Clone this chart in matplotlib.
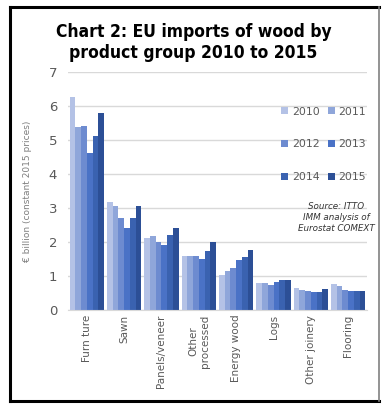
import numpy as np
import matplotlib
matplotlib.use("Agg")
import matplotlib.pyplot as plt
from matplotlib.lines import Line2D

categories = ["Furniture", "Sawn", "Panels/veneer", "Other\nprocessed",
              "Energy wood", "Logs", "Other joinery", "Flooring"]
tick_labels = ["Furn ture", "Sawn", "Panels/veneer", "Other\nprocessed",
               "Energy wood", "Logs", "Other joinery", "Flooring"]
years = ["2010", "2011", "2012", "2013", "2014", "2015"]
v2010 = [6.25, 3.18, 2.12, 1.60, 1.02, 0.80, 0.65, 0.75]
v2011 = [5.38, 3.05, 2.18, 1.60, 1.15, 0.80, 0.60, 0.70]
v2012 = [5.42, 2.70, 2.00, 1.60, 1.22, 0.73, 0.57, 0.60]
v2013 = [4.63, 2.42, 1.92, 1.50, 1.48, 0.83, 0.53, 0.55]
v2014 = [5.12, 2.70, 2.20, 1.72, 1.57, 0.88, 0.53, 0.57]
v2015 = [5.78, 3.05, 2.42, 2.00, 1.77, 0.88, 0.63, 0.57]
series = [v2010, v2011, v2012, v2013, v2014, v2015]
colors = ["#b4c2e6", "#8fa6da", "#6d8bd0", "#4a72c6", "#3a62b0", "#2c4f96"]

fig = plt.figure(figsize=(3.87, 4.16), dpi=100)
ax = fig.add_axes([0.176, 0.255, 0.772, 0.572])

x = np.arange(len(categories))
group = 0.92
w = group / len(years)
bars = []
for i, (yr, vals) in enumerate(zip(years, series)):
    b = ax.bar(x - group / 2 + w * (i + 0.5), vals, width=w, color=colors[i],
               label=yr, zorder=2)
    bars.append(b)

ax.set_ylim(0, 7)
ax.set_xlim(-0.5, len(categories) - 0.5)
ax.set_yticks(range(8))
ax.yaxis.grid(True, color="#d9d9d9", linewidth=1, zorder=0)
for s in ["top", "right", "left"]:
    ax.spines[s].set_visible(False)
ax.spines["bottom"].set_color("#d9d9d9")
ax.tick_params(axis="both", length=0, colors="#595959")
ax.tick_params(axis="y", labelsize=9.5, pad=8)
ax.set_xticks(x)
ax.set_xticklabels(tick_labels, rotation=90, fontsize=7.5, va="top")
ax.set_ylabel("€ billion (constant 2015 prices)", fontsize=6.5,
              color="#7f7f7f", labelpad=12)

# legend filled row by row: 2010 2011 / 2012 2013 / 2014 2015
order = [0, 2, 4, 1, 3, 5]
ax.legend([bars[i] for i in order], [years[i] for i in order], ncol=2,
          loc="upper right", bbox_to_anchor=(1.03, 0.895),
          frameon=False, fontsize=7.8, handlelength=0.6, handleheight=0.6,
          handletextpad=0.35, columnspacing=0.8, labelspacing=2.1,
          labelcolor="#595959")

fig.text(0.868, 0.478, "Source: ITTO\nIMM analysis of\nEurostat COMEXT",
         ha="center", va="center", fontsize=6.3, style="italic",
         color="#333333", linespacing=1.3)

fig.text(0.5, 0.897, "Chart 2: EU imports of wood by\nproduct group 2010 to 2015",
         ha="center", va="center", fontsize=12.5, fontweight="bold",
         family="DejaVu Sans", fontstretch="condensed", linespacing=1.2)

# frame around the chart
fig.add_artist(Line2D([0.026, 0.026], [0.036, 0.984], color="black",
                      lw=2.2, transform=fig.transFigure))
fig.add_artist(Line2D([0.026, 0.979], [0.984, 0.984], color="black",
                      lw=2.2, transform=fig.transFigure))
fig.add_artist(Line2D([0.026, 0.979], [0.036, 0.036], color="black",
                      lw=2.2, transform=fig.transFigure))
fig.add_artist(Line2D([0.979, 0.979], [0.036, 0.984], color="#808080",
                      lw=1.2, transform=fig.transFigure))

fig.savefig("out.png", dpi=100)
